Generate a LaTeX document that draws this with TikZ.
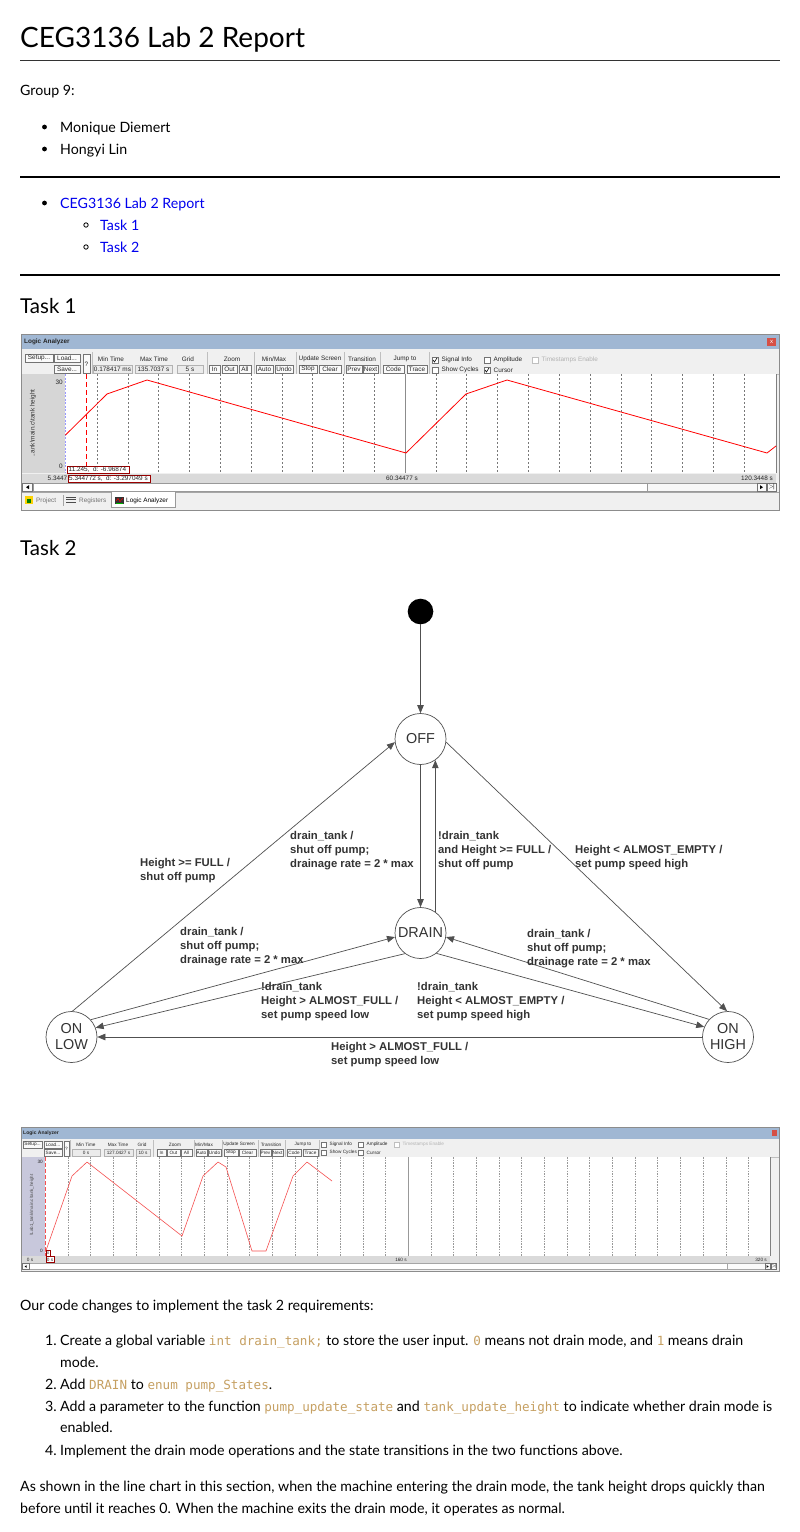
\documentclass[tikz,border=0pt]{standalone}
\usepackage{fontspec}
\setmainfont{Lato}
\newfontfamily\arialf{Liberation Sans}
\newfontfamily\monof{DejaVu Sans Mono}
\usetikzlibrary{arrows.meta}
\definecolor{linkblue}{RGB}{0,0,238}
\definecolor{codec}{RGB}{198,160,98}
\definecolor{dgm}{RGB}{51,51,51}
\definecolor{edgec}{RGB}{80,80,80}
\definecolor{titlebar}{RGB}{160,183,211}
\definecolor{tbbg}{RGB}{240,240,240}
\definecolor{panelg}{RGB}{214,214,214}
\definecolor{panell}{RGB}{200,200,220}
\definecolor{gridc}{RGB}{120,120,120}
\definecolor{curvea}{RGB}{255,0,0}
\definecolor{curveb}{RGB}{245,80,80}
\definecolor{closered}{RGB}{214,80,70}
\definecolor{timebar}{RGB}{218,218,218}
\newcommand\code[1]{{\monof\fontsize{12.6}{15}\selectfont\color{codec}#1}}
\newcounter{bc}
\tikzset{
 body/.style={anchor=base west,inner sep=0,font=\fontsize{14.2}{17}\selectfont},
 numb/.style={anchor=base east,inner sep=0,font=\fontsize{14.2}{17}\selectfont},
 htwo/.style={anchor=base west,inner sep=0,font=\fontsize{20.5}{24}\selectfont},
 tinyt/.style={inner sep=0,font=\arialf\fontsize{6.4}{7}\selectfont,text=black!85},
 tinyb/.style={inner sep=0,font=\arialf\fontsize{4.7}{6}\selectfont,text=black!85},
 btnbox/.style={draw=black!55,fill=black!2,line width=0.4pt},
 valbox/.style={draw=black!30,fill=black!8,line width=0.4pt},
 cbbox/.style={draw=black!55,fill=white,line width=0.4pt},
 tbsep/.style={draw=black!25,line width=0.5pt},
 gridl/.style={draw=gridc,line width=0.5pt,dash pattern=on 2pt off 2pt},
 state/.style={circle,draw=edgec,line width=0.7pt,minimum size=51pt,inner sep=0,
   font=\arialf\fontsize{14.4}{16}\selectfont,text=dgm,align=center,fill=white},
 edge/.style={draw=edgec,line width=0.7pt,-{Triangle[length=8pt,width=6.5pt]}},
 trl/.style={anchor=north west,inner sep=0,align=left,
   font=\arialf\bfseries\fontsize{11.3}{14}\selectfont,text=dgm},
}
% button: [style]{x1}{y1}{x2}{y2}{text}
\newcommand\labtn[6][tinyt]{\stepcounter{bc}\draw[btnbox] (#2,#3) rectangle (#4,#5);
  \node[#1] (b\thebc) at ({(#2+#4)/2},{(#3+#5)/2}) {#6};}
\newcommand\laval[6][tinyt]{\stepcounter{bc}\draw[valbox] (#2,#3) rectangle (#4,#5);
  \node[#1] (v\thebc) at ({(#2+#4)/2},{(#3+#5)/2}) {#6};}
% checkbox: [style]{x}{y}{size}{checked}{text}
\newcommand\lacb[6][tinyt]{\stepcounter{bc}\draw[cbbox] (#2,#3) rectangle ++(#4,#4);
  \ifnum#5=1 \draw[line width=0.6pt,black] ({#2+1},{#3+#4/2}) -- ({#2+#4*0.4},{#3+#4-1}) -- ({#2+#4-1},{#3+1});\fi
  \node[#1,anchor=west] (c\thebc) at ({#2+#4+3.5},{#3+#4/2}) {#6};}
\begin{document}
\begin{tikzpicture}[x=1pt,y=-1pt]
\fill[white] (0,0) rectangle (800,1532);
\useasboundingbox (0,0) rectangle (800,1532);
% ---------------- header ----------------
\node[anchor=base west,inner sep=0,font=\fontsize{28}{32}\selectfont] (title) at (20,47) {CEG3136 Lab 2 Report};
\draw[line width=1pt,black!80] (20,60.5) -- (780,60.5);
\node[body] (group) at (20,95.5) {Group 9:};
\fill (44.5,127) circle (2.4);
\node[body] (m1) at (60,132) {Monique Diemert};
\fill (44.5,149) circle (2.4);
\node[body] (m2) at (60,154) {Hongyi Lin};
\draw[line width=2pt] (20,177) -- (780,177);
\fill (44.5,203) circle (2.4);
\node[body,text=linkblue] (toc) at (60,208) {CEG3136 Lab 2 Report};
\draw[line width=0.8pt] (86,225) circle (2.2);
\node[body,text=linkblue] (toca) at (100,230.5) {Task 1};
\draw[line width=0.8pt] (86,247) circle (2.2);
\node[body,text=linkblue] (tocb) at (100,252.5) {Task 2};
\draw[line width=2pt] (20,275) -- (780,275);
\node[htwo] (taska) at (20,313) {Task 1};
% ---------------- logic analyzer 1 ----------------
\fill[tbbg] (21,334) rectangle (779,510);
\fill[titlebar] (21,334) rectangle (779,349);
\node[tinyt,font=\arialf\bfseries\fontsize{6.4}{7}\selectfont,anchor=west] (latitle) at (24,341.5) {Logic Analyzer};
\fill[closered] (767,337.5) rectangle (776,346);
\node[tinyt,text=white,font=\arialf\fontsize{6}{7}\selectfont] (laclose) at (771.5,341.6) {x};
\draw[black!25] (21,374) -- (779,374);
\labtn{25}{354}{53}{362}{Setup...}
\labtn{54}{354}{80}{362}{Load...}
\labtn{54}{365}{80}{373}{Save...}
\draw[btnbox] (83,354) rectangle (90,373);
\node[tinyt] (qm) at (86.5,364) {?};
\draw[tbsep] (92,352) -- (92,374);
\node[tinyt] (lmin) at (111,359) {Min Time};
\laval{93}{365}{132}{373}{0.178417 ms}
\node[tinyt] (lmax) at (154,359) {Max Time};
\laval{135}{365}{172}{373}{135.7037 s}
\node[tinyt] (lgrid) at (188,359) {Grid};
\laval{177}{365}{203}{373}{5 s}
\draw[tbsep] (207,352) -- (207,374);
\node[tinyt] (lzoom) at (232,359) {Zoom};
\labtn{209}{365}{220}{373}{In}
\labtn{222}{365}{237}{373}{Out}
\labtn{239}{365}{251}{373}{All}
\draw[tbsep] (254,352) -- (254,374);
\node[tinyt] (lmm) at (274,359) {Min/Max};
\labtn{256}{365}{273}{373}{Auto}
\labtn{275}{365}{293}{373}{Undo}
\draw[tbsep] (296,352) -- (296,374);
\node[tinyt] (lupd) at (320,359) {Update Screen};
\labtn{299}{365}{317}{373}{Stop}
\labtn{319}{365}{341}{373}{Clear}
\draw[tbsep] (344,352) -- (344,374);
\node[tinyt] (ltr) at (362,359) {Transition};
\labtn{346}{365}{362}{373}{Prev}
\labtn{363}{365}{378}{373}{Next}
\draw[tbsep] (380,352) -- (380,374);
\node[tinyt] (ljmp) at (405,359) {Jump to};
\labtn{383}{365}{404}{373}{Code}
\labtn{407}{365}{427}{373}{Trace}
\draw[tbsep] (429.5,352) -- (429.5,374);
\lacb{432}{357}{6}{1}{Signal Info}
\lacb{484}{357}{6}{0}{Amplitude}
\draw[draw=black!25,fill=white,line width=0.4pt] (532,357) rectangle ++(6,6);
\node[tinyt,anchor=west,text=black!30] (lts) at (541.5,360) {Timestamps Enable};
\lacb{432}{367}{6}{0}{Show Cycles}
\lacb{484}{367}{6}{1}{Cursor}
% plot area
\fill[panelg] (22,374) rectangle (65,473);
\fill[white] (65,374) rectangle (776,473);
\draw[black!50,line width=0.6pt] (776,374) -- (776,473);
\node[tinyt,rotate=90,text=black!80] (ylab) at (33,423) {..ank\textbackslash main.c\textbackslash tank height};
\node[tinyt,anchor=east] (y30) at (63,382) {30};
\node[tinyt,anchor=east] (y0) at (63,466) {0};
\foreach \i in {0,...,21}{\ifnum\i=10 \else \draw[gridl] ({97+30.81*\i},374) -- ({97+30.81*\i},473);\fi}
\draw[black!45,line width=0.6pt] (405.1,374) -- (405.1,473);
\draw[blue!40,line width=0.6pt,dash pattern=on 2pt off 1.5pt] (65.5,374) -- (65.5,473);
\draw[curvea,line width=0.6pt,dash pattern=on 5pt off 3pt] (86,374) -- (86,473);
\draw[curvea,line width=0.8pt,line join=round] (65.5,435) -- (107,394) -- (147,380) -- (406,453) -- (466,394) -- (507,380) -- (767,453) -- (776,446);
\draw[red!60!black,fill=white,line width=0.5pt] (67,466) rectangle (129,473.5);
\node[tinyt,anchor=west] (cura) at (68.5,469.8) {11.245,\ \ d: -6.96874};
\fill[timebar] (22,473.5) rectangle (776,482.5);
\draw[red!60!black,fill=white,line width=0.5pt] (68,475) rectangle (150,482.3);
\node[tinyt,anchor=west] (curb) at (69,478.7) {5.344772 s,\ \ d: -3.297049 s};
\node[tinyt,anchor=east] (tl) at (67.5,478.2) {5.3447};
\node[tinyt] (tm) at (402,478.2) {60.34477 s};
\node[tinyt,anchor=east] (tr) at (773,478.2) {120.3448 s};
% scrollbar
\fill[black!4] (22,482.5) rectangle (776,492);
\draw[black!40,fill=black!3,line width=0.4pt] (647,483) rectangle (757,491.5);
\draw[black!40,fill=white,line width=0.4pt] (33,483) rectangle (647,491.5);
\labtn{22.5}{483}{32.5}{491.5}{}
\fill[black] (26,487.2) -- (29,485.2) -- (29,489.2) -- cycle;
\labtn{757}{483}{766}{491.5}{}
\fill[black] (763,487.2) -- (760,485.2) -- (760,489.2) -- cycle;
\labtn{767}{483}{776}{491.5}{$>$\!|}
% tabs
\draw[black!35,line width=0.5pt] (21,492.5) -- (779,492.5);
\fill[yellow!70!orange] (25,496) rectangle (33,504);
\fill[green!50!black] (27,499) rectangle (31,503);
\node[tinyt,anchor=west,text=black!55] (tproj) at (36,500.5) {Project};
\draw[black!35] (63,495) -- (63,506);
\foreach \k in {0,1,2}{\draw[black!70,line width=0.9pt] (66,{497+2.6*\k}) -- (76,{497+2.6*\k});}
\node[tinyt,anchor=west,text=black!55] (treg) at (79,500.5) {Registers};
\draw[black!40,fill=white,line width=0.5pt] (111,491.5) rectangle (175,507.5);
\fill[black!80] (115,496.5) rectangle (124,504);
\draw[red,line width=0.5pt] (116,501) -- (118,498.5) -- (120,501.5) -- (123,498);
\draw[green!70!black,line width=0.5pt] (116,503) -- (123,503);
\node[tinyt,anchor=west,text=black] (tla) at (126,500.5) {Logic Analyzer};
\draw[black!45,line width=0.6pt] (21,334) rectangle (779,510);
% ---------------- Task 2 ----------------
\node[htwo] (taskb) at (20,555) {Task 2};
% state diagram
\fill[black] (420.5,611.5) circle (12.8);
\coordinate (init) at (420.5,624.3);
\node[state] (off) at (420.5,739) {OFF};
\node[state] (drain) at (420.5,933) {DRAIN};
\node[state] (onlow) at (71.5,1037) {ON\\LOW};
\node[state] (onhigh) at (728,1037) {ON\\HIGH};
\draw[edge] (init) -- (off.north);
\draw[edge] (off.south) -- (drain.north);
\draw[edge] (drain.55) -- (off.-55);
\draw[edge] (onlow.88) -- (off.187);
\draw[edge] (off.-7) -- (onhigh.92);
\draw[edge] (onlow.42) -- (drain.189);
\draw[edge] (drain.233) -- (onlow.21);
\draw[edge] (onhigh.137) -- (drain.-9);
\draw[edge] (drain.-52) -- (onhigh.157);
\draw[edge] (onhigh.180) -- (onlow.0);
\node[trl] (ta) at (140,857.6) {Height >= FULL /\\shut off pump};
\node[trl] (tb) at (290,830.6) {drain\_tank /\\shut off pump;\\drainage rate = 2 * max};
\node[trl] (tc) at (438,830.6) {!drain\_tank\\and Height >= FULL /\\shut off pump};
\node[trl] (td) at (575,844.6) {Height < ALMOST\_EMPTY /\\set pump speed high};
\node[trl] (te) at (180,926.6) {drain\_tank /\\shut off pump;\\drainage rate = 2 * max};
\node[trl] (tf) at (527,928.6) {drain\_tank /\\shut off pump;\\drainage rate = 2 * max};
\node[trl] (tg) at (261,981.6) {!drain\_tank\\Height > ALMOST\_FULL /\\set pump speed low};
\node[trl] (th) at (417,981.6) {!drain\_tank\\Height < ALMOST\_EMPTY /\\set pump speed high};
\node[trl] (ti) at (331,1041.6) {Height > ALMOST\_FULL /\\set pump speed low};
% ---------------- logic analyzer 2 ----------------
\fill[tbbg] (21,1127) rectangle (779,1271);
\fill[titlebar] (21,1127) rectangle (779,1139);
\node[tinyb,font=\arialf\bfseries\fontsize{5}{6}\selectfont,anchor=west] (lbtitle) at (23,1133) {Logic Analyzer};
\fill[closered] (771.5,1130) rectangle (777,1136);
\draw[black!25] (21,1157) -- (779,1157);
\labtn[tinyb]{23}{1141}{42}{1148}{Setup...}
\labtn[tinyb]{44}{1141}{62}{1148}{Load...}
\labtn[tinyb]{44}{1149}{62}{1156}{Save...}
\draw[btnbox] (64,1141) rectangle (69,1156);
\node[tinyb] (qmb) at (66.5,1149) {?};
\draw[tbsep] (70.5,1140) -- (70.5,1157);
\node[tinyb] (lminb) at (86,1144.5) {Min Time};
\laval[tinyb]{72}{1149}{100}{1156}{0 s}
\node[tinyb] (lmaxb) at (118,1144.5) {Max Time};
\laval[tinyb]{104}{1149}{133}{1156}{127.0427 s}
\node[tinyb] (lgridb) at (142,1144.5) {Grid};
\laval[tinyb]{136}{1149}{150}{1156}{10 s}
\draw[tbsep] (153,1140) -- (153,1157);
\node[tinyb] (lzoomb) at (175,1144.5) {Zoom};
\labtn[tinyb]{157}{1149}{166}{1156}{In}
\labtn[tinyb]{167}{1149}{180}{1156}{Out}
\labtn[tinyb]{181}{1149}{192}{1156}{All}
\draw[tbsep] (194,1140) -- (194,1157);
\node[tinyb] (lmmb) at (204,1144.5) {Min/Max};
\labtn[tinyb]{196}{1149}{207}{1156}{Auto}
\labtn[tinyb]{208}{1149}{221}{1156}{Undo}
\draw[tbsep] (222.5,1140) -- (222.5,1157);
\node[tinyb] (lupdb) at (239,1144.5) {Update Screen};
\labtn[tinyb]{224}{1149}{238}{1156}{Stop}
\labtn[tinyb]{239}{1149}{256}{1156}{Clear}
\draw[tbsep] (258,1140) -- (258,1157);
\node[tinyb] (ltrb) at (271,1144.5) {Transition};
\labtn[tinyb]{260}{1149}{271}{1156}{Prev}
\labtn[tinyb]{272}{1149}{283}{1156}{Next}
\draw[tbsep] (285,1140) -- (285,1157);
\node[tinyb] (ljmpb) at (303,1144.5) {Jump to};
\labtn[tinyb]{287}{1149}{301}{1156}{Code}
\labtn[tinyb]{303}{1149}{318}{1156}{Trace}
\draw[tbsep] (319.5,1140) -- (319.5,1157);
\lacb[tinyb]{321}{1142}{5}{0}{Signal Info}
\lacb[tinyb]{358}{1142}{5}{0}{Amplitude}
\draw[draw=black!25,fill=white,line width=0.4pt] (394,1142) rectangle ++(5,5);
\node[tinyb,anchor=west,text=black!30] (ltsb) at (402.5,1144.5) {Timestamps Enable};
\lacb[tinyb]{321}{1150}{5}{0}{Show Cycles}
\lacb[tinyb]{358}{1150}{5}{0}{Cursor}
% plot
\fill[panell] (22,1157) rectangle (45,1256);
\fill[white] (45,1157) rectangle (770,1256);
\draw[black!50,line width=0.6pt] (770,1157) -- (770,1256);
\node[tinyb,rotate=90,text=black!70,font=\arialf\fontsize{4.5}{5}\selectfont] (ylabb) at (32,1205) {\textbackslash Lab1\_tank\textbackslash main.c\textbackslash tank\_height};
\node[tinyb,anchor=east] (y30b) at (43,1162) {30};
\node[tinyb,anchor=east] (y0b) at (43,1251) {0};
\foreach \i in {0,...,30}{\ifnum\i=15 \else \draw[gridl,draw=black!40,dash pattern=on 1.5pt off 1.2pt,line width=0.4pt] ({68+22.68*\i},1157) -- ({68+22.68*\i},1256);\fi}
\draw[black!40,line width=0.5pt] (408,1157) -- (408,1256);
\draw[curveb,line width=0.6pt,dash pattern=on 4pt off 2pt] (45.5,1157) -- (45.5,1256);
\draw[curveb,line width=0.6pt,line join=round] (45.5,1252) -- (72,1176) -- (87,1162) -- (182,1236) -- (203,1176) -- (218,1162) -- (226,1167) -- (252,1251) -- (266,1251) -- (293,1176) -- (307,1162) -- (332,1181);
\draw[red!60!black,fill=white,line width=0.4pt] (46,1250) rectangle (50.5,1256);
\node[tinyb,font=\arialf\fontsize{3.8}{4}\selectfont] (c0b) at (48.2,1253) {0};
\fill[timebar] (22,1256) rectangle (770,1263);
\draw[red!60!black,fill=white,line width=0.4pt] (46,1256.5) rectangle (54,1262.5);
\node[tinyb] (cb0) at (50,1259.6) {0 s};
\node[tinyb] (tlb) at (30,1259.6) {0 s};
\node[tinyb] (tmb) at (401,1259.6) {160 s};
\node[tinyb,anchor=east] (trb) at (767,1259.6) {320 s};
\fill[black!4] (22,1263) rectangle (776,1270);
\draw[black!35,fill=white,line width=0.4pt] (29,1263.5) rectangle (727,1269.5);
\draw[black!35,fill=black!2,line width=0.4pt] (727,1263.5) rectangle (765,1269.5);
\labtn[tinyb]{22.5}{1263.5}{29}{1269.5}{}
\fill[black] (24.7,1266.5) -- (26.7,1265.2) -- (26.7,1267.8) -- cycle;
\labtn[tinyb]{765}{1263.5}{770.5}{1269.5}{}
\fill[black] (768.7,1266.5) -- (766.7,1265.2) -- (766.7,1267.8) -- cycle;
\labtn[tinyb]{771}{1263.5}{776.5}{1269.5}{$>$\!|}
\draw[black!45,line width=0.6pt] (21,1127) rectangle (779,1271);
% ---------------- bottom text ----------------
\node[body] (pa) at (20,1310) {Our code changes to implement the task 2 requirements:};
\node[numb] (n1) at (57,1345) {1.};
\node[body] (la) at (60,1345) {Create a global variable \code{int drain\_tank;} to store the user input. \code{0} means not drain mode, and \code{1} means drain};
\node[body] (lb) at (60,1367) {mode.};
\node[numb] (n2) at (57,1389) {2.};
\node[body] (lc) at (60,1389) {Add \code{DRAIN} to \code{enum pump\_States}.};
\node[numb] (n3) at (57,1411) {3.};
\node[body] (ld) at (60,1411) {Add a parameter to the function \code{pump\_update\_state} and \code{tank\_update\_height} to indicate whether drain mode is};
\node[body] (le) at (60,1432.5) {enabled.};
\node[numb] (n4) at (57,1455) {4.};
\node[body] (lf) at (60,1455) {Implement the drain mode operations and the state transitions in the two functions above.};
\node[body] (pb) at (20,1491) {As shown in the line chart in this section, when the machine entering the drain mode, the tank height drops quickly than};
\node[body] (pc) at (20,1513) {before until it reaches 0. When the machine exits the drain mode, it operates as normal.};
\end{tikzpicture}
\end{document}
